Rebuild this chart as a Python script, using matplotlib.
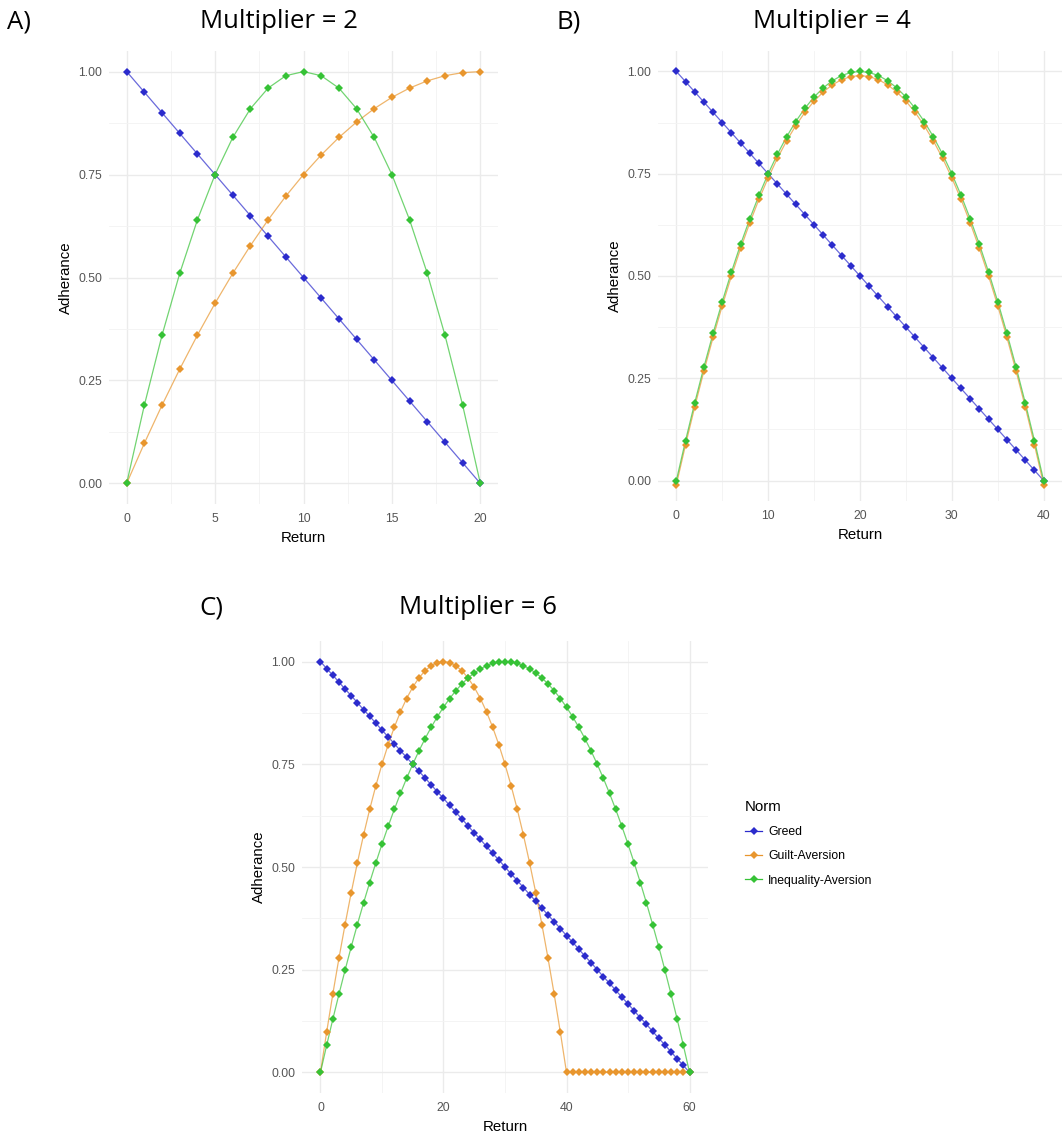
import matplotlib
matplotlib.use("Agg")
import matplotlib.pyplot as plt
from matplotlib.lines import Line2D
from matplotlib.ticker import MultipleLocator

# ---------------- data ----------------
norms = ["Greed", "Guilt-Aversion", "Inequality-Aversion"]

return_a = list(range(0, 21))
greed_a = [1.00, 0.95, 0.90, 0.85, 0.80, 0.75, 0.70, 0.65, 0.60, 0.55, 0.50,
           0.45, 0.40, 0.35, 0.30, 0.25, 0.20, 0.15, 0.10, 0.05, 0.00]
guilt_a = [0.0, 0.0975, 0.19, 0.2775, 0.36, 0.4375, 0.51, 0.5775, 0.64, 0.6975, 0.75,
           0.7975, 0.84, 0.8775, 0.91, 0.9375, 0.96, 0.9775, 0.99, 0.9975, 1.0]
ineq_a = [0.0, 0.19, 0.36, 0.51, 0.64, 0.75, 0.84, 0.91, 0.96, 0.99, 1.0,
          0.99, 0.96, 0.91, 0.84, 0.75, 0.64, 0.51, 0.36, 0.19, 0.0]

return_b = list(range(0, 41))
greed_b = [1.000, 0.975, 0.950, 0.925, 0.900, 0.875, 0.850, 0.825, 0.800, 0.775,
           0.750, 0.725, 0.700, 0.675, 0.650, 0.625, 0.600, 0.575, 0.550, 0.525,
           0.500, 0.475, 0.450, 0.425, 0.400, 0.375, 0.350, 0.325, 0.300, 0.275,
           0.250, 0.225, 0.200, 0.175, 0.150, 0.125, 0.100, 0.075, 0.050, 0.025, 0.000]
guilt_b = [-0.01, 0.0875, 0.18, 0.2675, 0.35, 0.4275, 0.50, 0.5675, 0.63, 0.6875,
           0.74, 0.7875, 0.83, 0.8675, 0.90, 0.9275, 0.95, 0.9675, 0.98, 0.9875,
           0.99, 0.9875, 0.98, 0.9675, 0.95, 0.9275, 0.90, 0.8675, 0.83, 0.7875,
           0.74, 0.6875, 0.63, 0.5675, 0.50, 0.4275, 0.35, 0.2675, 0.18, 0.0875, -0.01]
ineq_b = [0.0, 0.0975, 0.19, 0.2775, 0.36, 0.4375, 0.51, 0.5775, 0.64, 0.6975,
          0.75, 0.7975, 0.84, 0.8775, 0.91, 0.9375, 0.96, 0.9775, 0.99, 0.9975,
          1.0, 0.9975, 0.99, 0.9775, 0.96, 0.9375, 0.91, 0.8775, 0.84, 0.7975,
          0.75, 0.6975, 0.64, 0.5775, 0.51, 0.4375, 0.36, 0.2775, 0.19, 0.0975, 0.0]

return_c = list(range(0, 61))
greed_c = [1.000, 0.983, 0.967, 0.950, 0.933, 0.917, 0.900, 0.883, 0.867, 0.850,
           0.833, 0.817, 0.800, 0.783, 0.767, 0.750, 0.733, 0.717, 0.700, 0.683,
           0.667, 0.650, 0.633, 0.617, 0.600, 0.583, 0.567, 0.550, 0.533, 0.517,
           0.500, 0.483, 0.467, 0.450, 0.433, 0.417, 0.400, 0.383, 0.367, 0.350,
           0.333, 0.317, 0.300, 0.283, 0.267, 0.250, 0.233, 0.217, 0.200, 0.183,
           0.167, 0.150, 0.133, 0.117, 0.100, 0.083, 0.067, 0.050, 0.033, 0.017, 0.000]
guilt_c = [0.0, 0.0975, 0.19, 0.2775, 0.36, 0.4375, 0.51, 0.5775, 0.64, 0.6975,
           0.75, 0.7975, 0.84, 0.8775, 0.91, 0.9375, 0.96, 0.9775, 0.99, 0.9975,
           1.0, 0.9975, 0.99, 0.9775, 0.96, 0.9375, 0.91, 0.8775, 0.84, 0.7975,
           0.75, 0.6975, 0.64, 0.5775, 0.51, 0.4375, 0.36, 0.2775, 0.19, 0.0975,
           0.0, 0.0, 0.0, 0.0, 0.0, 0.0, 0.0, 0.0, 0.0, 0.0,
           0.0, 0.0, 0.0, 0.0, 0.0, 0.0, 0.0, 0.0, 0.0, 0.0, 0.0]
ineq_c = [0.0, 0.0656, 0.1289, 0.19, 0.2489, 0.3056, 0.36, 0.4122, 0.4622, 0.51,
          0.5556, 0.5989, 0.64, 0.6789, 0.7156, 0.75, 0.7822, 0.8122, 0.84, 0.8656,
          0.8889, 0.91, 0.9289, 0.9456, 0.96, 0.9722, 0.9822, 0.99, 0.9956, 0.9989,
          1.0, 0.9989, 0.9956, 0.99, 0.9822, 0.9722, 0.96, 0.9456, 0.9289, 0.91,
          0.8889, 0.8656, 0.84, 0.8122, 0.7822, 0.75, 0.7156, 0.6789, 0.64, 0.5989,
          0.5556, 0.51, 0.4622, 0.4122, 0.36, 0.3056, 0.2489, 0.19, 0.1289, 0.0656, 0.0]

y_ticks = [0.00, 0.25, 0.50, 0.75, 1.00]
y_tick_labels = ["0.00", "0.25", "0.50", "0.75", "1.00"]

# ---------------- style ----------------
colors = {"Greed": "#2b2bcc", "Guilt-Aversion": "#e8962e", "Inequality-Aversion": "#36c236"}
W, H = 1064, 1138
fig = plt.figure(figsize=(W / 100, H / 100), dpi=100)
fig.patch.set_facecolor("white")

title_font = ["Open Sans", "DejaVu Sans"]
gg_font = ["Liberation Sans", "DejaVu Sans"]
MS = 4.2


def px_axes(x0, y0, x1, y1):
    return fig.add_axes([x0 / W, 1 - y1 / H, (x1 - x0) / W, (y1 - y0) / H])


def panel(ax, xs, series, xmax, xmajor, xticks):
    for name, ys in zip(norms, series):
        ax.plot(xs, ys, color=colors[name], lw=0.9, alpha=0.7, zorder=3)
    for name, ys in zip(norms, series):
        ax.plot(xs, ys, ls="none", marker="D", ms=MS, color=colors[name],
                markeredgewidth=0, zorder=4)
    ax.set_xlim(-0.05 * xmax, 1.05 * xmax)
    ax.set_ylim(-0.05, 1.05)
    ax.set_xticks(xticks)
    ax.set_xticklabels([str(t) for t in xticks])
    ax.xaxis.set_minor_locator(MultipleLocator(xmajor / 2))
    ax.set_yticks(y_ticks)
    ax.set_yticklabels(y_tick_labels)
    ax.yaxis.set_minor_locator(MultipleLocator(0.125))
    ax.grid(which="major", color="#ebebeb", lw=1.0, zorder=0)
    ax.grid(which="minor", color="#f3f3f3", lw=0.6, zorder=0)
    ax.set_axisbelow(True)
    for s in ax.spines.values():
        s.set_visible(False)
    ax.tick_params(which="both", length=0, labelsize=8.8, labelcolor="#555555")
    ax.tick_params(axis="x", pad=6.5)
    ax.tick_params(axis="y", pad=5)
    for lab in ax.get_xticklabels() + ax.get_yticklabels():
        lab.set_fontfamily(gg_font)
    ax.set_xlabel("Return", fontsize=10.8, family=gg_font, labelpad=4)
    ax.set_ylabel("Adherance", fontsize=10.8, family=gg_font, labelpad=4)


# Panel A
axA = px_axes(109, 51, 498, 504)
panel(axA, return_a, [greed_a, guilt_a, ineq_a], 20, 5, [0, 5, 10, 15, 20])
fig.text(279 / W, 1 - 22 / H, "Multiplier = 2", ha="center", va="center",
         fontsize=18.5, family=title_font)
fig.text(7 / W, 1 - 22 / H, "A)", ha="left", va="center", fontsize=18.5, family=title_font)

# Panel B
axB = px_axes(658, 51, 1062, 501)
panel(axB, return_b, [greed_b, guilt_b, ineq_b], 40, 10, [0, 10, 20, 30, 40])
fig.text(832 / W, 1 - 22 / H, "Multiplier = 4", ha="center", va="center",
         fontsize=18.5, family=title_font)
fig.text(556 / W, 1 - 22 / H, "B)", ha="left", va="center", fontsize=18.5, family=title_font)

# Panel C
axC = px_axes(302, 641, 708, 1093)
panel(axC, return_c, [greed_c, guilt_c, ineq_c], 60, 20, [0, 20, 40, 60])
fig.text(478 / W, 1 - 608 / H, "Multiplier = 6", ha="center", va="center",
         fontsize=18.5, family=title_font)
fig.text(199 / W, 1 - 608 / H, "C)", ha="left", va="center", fontsize=18.5, family=title_font)

# Legend
handles = [Line2D([0], [0], color=colors[n], lw=0.9, marker="D", ms=MS,
                  markeredgewidth=0) for n in norms]
leg = fig.legend(handles, norms, loc="upper left", bbox_to_anchor=(734 / W, 1 - 789 / H),
                 frameon=False, title="Norm",
                 handlelength=1.4, labelspacing=1.0, handletextpad=0.5,
                 prop={"family": gg_font, "size": 8.8},
                 title_fontproperties={"family": gg_font, "size": 10.8},
                 alignment="left")

fig.savefig("out.png", dpi=100, facecolor="white")
